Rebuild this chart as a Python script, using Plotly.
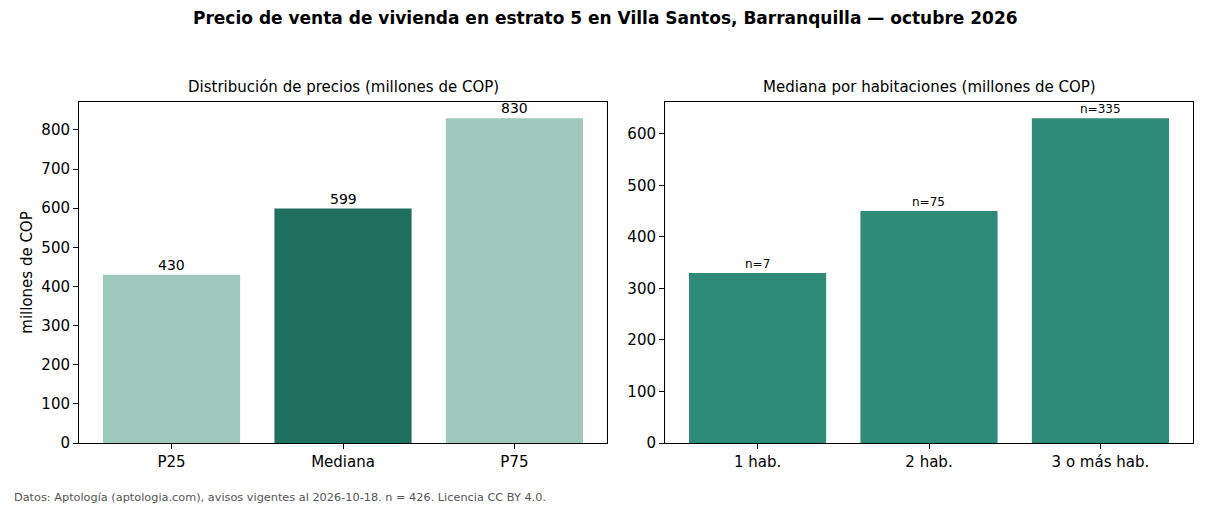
import plotly.graph_objects as go

dist_cats = ["P25", "Mediana", "P75"]
dist_vals = [430, 599, 830]
dist_colors = ["#9DC8BB", "#1F6F5E", "#9DC8BB"]

hab_cats = ["1 hab.", "2 hab.", "3 o más hab."]
hab_vals = [330, 450, 630]
hab_n = [7, 75, 335]
hab_color = "#2E8B77"

title = "Precio de venta de vivienda en estrato 5 en Villa Santos, Barranquilla — octubre 2026"
sub1 = "Distribución de precios (millones de COP)"
sub2 = "Mediana por habitaciones (millones de COP)"
footer = "Datos: Aptología (aptologia.com), avisos vigentes al 2026-10-18. n = 426. Licencia CC BY 4.0."

FONT = "DejaVu Sans"
W, H = 1210, 506

fig = go.Figure()
fig.add_trace(go.Bar(
    x=dist_cats, y=dist_vals, marker=dict(color=dist_colors, line=dict(width=0)),
    width=0.8, xaxis="x", yaxis="y", showlegend=False,
))
fig.add_trace(go.Bar(
    x=hab_cats, y=hab_vals, marker=dict(color=hab_color, line=dict(width=0)),
    width=0.8, xaxis="x2", yaxis="y2", showlegend=False,
))

annotations = []
for c, v in zip(dist_cats, dist_vals):
    annotations.append(dict(text=str(v), x=c, y=v, xref="x", yref="y",
                            xanchor="center", yanchor="bottom", yshift=0, showarrow=False,
                            font=dict(family=FONT, size=14, color="black")))
for c, v, n in zip(hab_cats, hab_vals, hab_n):
    annotations.append(dict(text=f"n={n}", x=c, y=v, xref="x2", yref="y2",
                            xanchor="center", yanchor="bottom", yshift=0, showarrow=False,
                            font=dict(family=FONT, size=12, color="black")))

ydom = [(H - 443) / H, (H - 102) / H]
axis_common = dict(showline=True, linecolor="black", linewidth=1, mirror=True,
                   ticks="outside", ticklen=5, tickwidth=1, tickcolor="black",
                   showgrid=False, zeroline=False, automargin=False,
                   tickfont=dict(family=FONT, size=15, color="black"))

annotations += [
    dict(text=f"<b>{title}</b>", x=605 / W, y=(H - 18) / H, xref="paper", yref="paper",
         xanchor="center", yanchor="middle", showarrow=False,
         font=dict(family=FONT, size=17, color="black")),
    dict(text=sub1, x=343 / W, y=(H - 87) / H, xref="paper", yref="paper",
         xanchor="center", yanchor="middle", showarrow=False,
         font=dict(family=FONT, size=15, color="black")),
    dict(text=sub2, x=929 / W, y=(H - 87) / H, xref="paper", yref="paper",
         xanchor="center", yanchor="middle", showarrow=False,
         font=dict(family=FONT, size=15, color="black")),
    dict(text=footer, x=12 / W, y=(H - 497) / H, xref="paper", yref="paper",
         xanchor="left", yanchor="middle", showarrow=False,
         font=dict(family=FONT, size=11.3, color="#555555")),
]

fig.update_layout(
    width=W, height=H, margin=dict(l=0, r=0, t=0, b=0, pad=0),
    paper_bgcolor="white", plot_bgcolor="white",
    font=dict(family=FONT, color="black"),
    bargap=0.2,
    xaxis=dict(domain=[79 / W, 607 / W], range=[-0.54, 2.54], anchor="y", **axis_common),
    yaxis=dict(domain=ydom, range=[0, 871.5], dtick=100, anchor="x",
               title=dict(text="millones de COP", font=dict(family=FONT, size=15), standoff=5),
               **axis_common),
    xaxis2=dict(domain=[665 / W, 1193 / W], range=[-0.54, 2.54], anchor="y2", **axis_common),
    yaxis2=dict(domain=ydom, range=[0, 661.5], dtick=100, anchor="x2", **axis_common),
    annotations=annotations,
)

fig.write_html("out.html")
